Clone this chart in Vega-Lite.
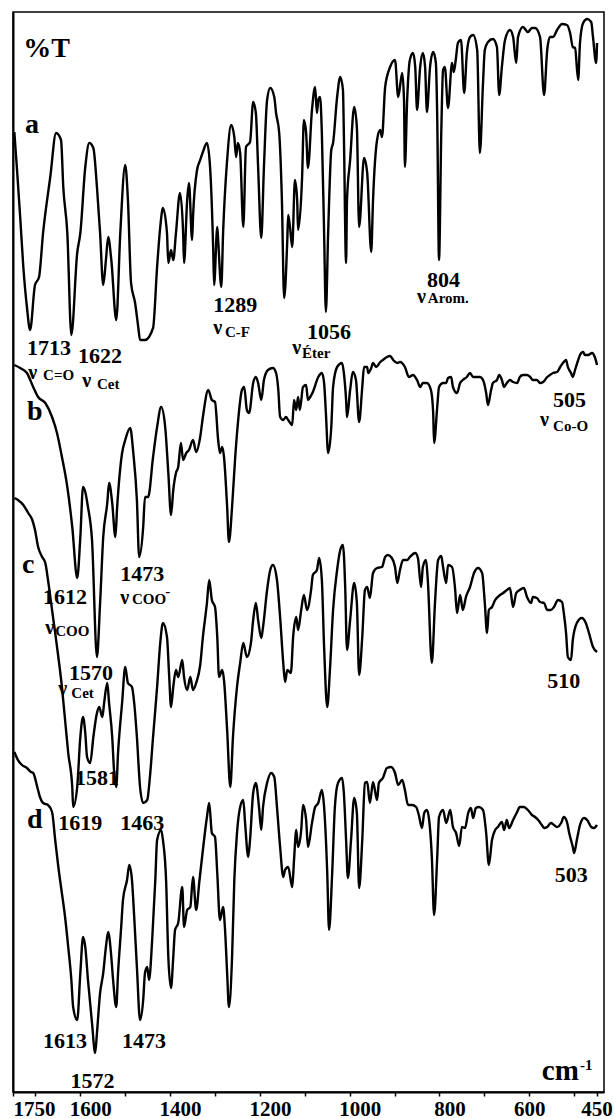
{
"$schema": "https://vega.github.io/schema/vega-lite/v6.json",
"autosize": "none",
"width": 591,
"height": 1080,
"padding": {"left": 13, "top": 12, "right": 11, "bottom": 27},
"background": "white",
"config": {"view": {"stroke": "black", "strokeWidth": 1.5}, "font": "Liberation Serif"},
"datasets": {
"spectra": [
{"s":"a","nu":1747,"T":960},{"s":"a","nu":1741,"T":922},{"s":"a","nu":1734,"T":875},{"s":"a","nu":1727,"T":825},{"s":"a","nu":1719,"T":785},{"s":"a","nu":1712,"T":762},{"s":"a","nu":1701,"T":807},{"s":"a","nu":1692,"T":815},{"s":"a","nu":1683,"T":859},{"s":"a","nu":1667,"T":915},{"s":"a","nu":1654,"T":959},{"s":"a","nu":1643,"T":952},{"s":"a","nu":1638,"T":905},{"s":"a","nu":1629,"T":859},{"s":"a","nu":1620,"T":757},{"s":"a","nu":1607,"T":839},{"s":"a","nu":1600,"T":859},{"s":"a","nu":1589,"T":925},{"s":"a","nu":1580,"T":949},{"s":"a","nu":1571,"T":944},{"s":"a","nu":1563,"T":905},{"s":"a","nu":1556,"T":859},{"s":"a","nu":1549,"T":807},{"s":"a","nu":1543,"T":832},{"s":"a","nu":1538,"T":855},{"s":"a","nu":1531,"T":832},{"s":"a","nu":1520,"T":772},{"s":"a","nu":1511,"T":859},{"s":"a","nu":1500,"T":927},{"s":"a","nu":1494,"T":892},{"s":"a","nu":1487,"T":809},{"s":"a","nu":1478,"T":789},{"s":"a","nu":1471,"T":765},{"s":"a","nu":1467,"T":752},{"s":"a","nu":1456,"T":752},{"s":"a","nu":1438,"T":764},{"s":"a","nu":1429,"T":825},{"s":"a","nu":1422,"T":865},{"s":"a","nu":1416,"T":884},{"s":"a","nu":1407,"T":859},{"s":"a","nu":1404,"T":829},{"s":"a","nu":1398,"T":842},{"s":"a","nu":1393,"T":832},{"s":"a","nu":1387,"T":859},{"s":"a","nu":1378,"T":899},{"s":"a","nu":1371,"T":859},{"s":"a","nu":1369,"T":829},{"s":"a","nu":1362,"T":892},{"s":"a","nu":1358,"T":909},{"s":"a","nu":1351,"T":852},{"s":"a","nu":1349,"T":875},{"s":"a","nu":1340,"T":922},{"s":"a","nu":1333,"T":932},{"s":"a","nu":1327,"T":940},{"s":"a","nu":1318,"T":949},{"s":"a","nu":1311,"T":925},{"s":"a","nu":1304,"T":842},{"s":"a","nu":1302,"T":807},{"s":"a","nu":1295,"T":865},{"s":"a","nu":1293,"T":852},{"s":"a","nu":1286,"T":805},{"s":"a","nu":1282,"T":859},{"s":"a","nu":1273,"T":932},{"s":"a","nu":1264,"T":967},{"s":"a","nu":1257,"T":955},{"s":"a","nu":1253,"T":935},{"s":"a","nu":1249,"T":949},{"s":"a","nu":1244,"T":939},{"s":"a","nu":1237,"T":865},{"s":"a","nu":1231,"T":945},{"s":"a","nu":1222,"T":950},{"s":"a","nu":1215,"T":990},{"s":"a","nu":1209,"T":979},{"s":"a","nu":1204,"T":925},{"s":"a","nu":1197,"T":854},{"s":"a","nu":1191,"T":925},{"s":"a","nu":1184,"T":992},{"s":"a","nu":1177,"T":1004},{"s":"a","nu":1168,"T":995},{"s":"a","nu":1164,"T":979},{"s":"a","nu":1157,"T":959},{"s":"a","nu":1151,"T":892},{"s":"a","nu":1146,"T":794},{"s":"a","nu":1139,"T":852},{"s":"a","nu":1137,"T":877},{"s":"a","nu":1133,"T":865},{"s":"a","nu":1128,"T":845},{"s":"a","nu":1122,"T":912},{"s":"a","nu":1117,"T":892},{"s":"a","nu":1115,"T":862},{"s":"a","nu":1106,"T":915},{"s":"a","nu":1102,"T":972},{"s":"a","nu":1097,"T":959},{"s":"a","nu":1093,"T":924},{"s":"a","nu":1084,"T":982},{"s":"a","nu":1077,"T":1005},{"s":"a","nu":1073,"T":979},{"s":"a","nu":1070,"T":992},{"s":"a","nu":1066,"T":995},{"s":"a","nu":1062,"T":959},{"s":"a","nu":1057,"T":859},{"s":"a","nu":1053,"T":780},{"s":"a","nu":1048,"T":859},{"s":"a","nu":1041,"T":942},{"s":"a","nu":1037,"T":949},{"s":"a","nu":1028,"T":995},{"s":"a","nu":1021,"T":1015},{"s":"a","nu":1015,"T":1002},{"s":"a","nu":1013,"T":959},{"s":"a","nu":1008,"T":829},{"s":"a","nu":1006,"T":892},{"s":"a","nu":999,"T":932},{"s":"a","nu":990,"T":985},{"s":"a","nu":984,"T":965},{"s":"a","nu":979,"T":865},{"s":"a","nu":968,"T":934},{"s":"a","nu":961,"T":919},{"s":"a","nu":952,"T":840},{"s":"a","nu":948,"T":892},{"s":"a","nu":939,"T":952},{"s":"a","nu":932,"T":962},{"s":"a","nu":928,"T":955},{"s":"a","nu":921,"T":1005},{"s":"a","nu":910,"T":1025},{"s":"a","nu":899,"T":1032},{"s":"a","nu":892,"T":995},{"s":"a","nu":883,"T":1019},{"s":"a","nu":879,"T":992},{"s":"a","nu":877,"T":925},{"s":"a","nu":872,"T":992},{"s":"a","nu":866,"T":1032},{"s":"a","nu":859,"T":1039},{"s":"a","nu":854,"T":1025},{"s":"a","nu":850,"T":982},{"s":"a","nu":843,"T":1025},{"s":"a","nu":837,"T":1039},{"s":"a","nu":832,"T":1025},{"s":"a","nu":828,"T":980},{"s":"a","nu":821,"T":1025},{"s":"a","nu":814,"T":1040},{"s":"a","nu":808,"T":1029},{"s":"a","nu":805,"T":975},{"s":"a","nu":801,"T":832},{"s":"a","nu":796,"T":959},{"s":"a","nu":792,"T":1022},{"s":"a","nu":788,"T":1025},{"s":"a","nu":781,"T":984},{"s":"a","nu":772,"T":1029},{"s":"a","nu":768,"T":1020},{"s":"a","nu":763,"T":1035},{"s":"a","nu":759,"T":1049},{"s":"a","nu":752,"T":1052},{"s":"a","nu":745,"T":999},{"s":"a","nu":739,"T":1039},{"s":"a","nu":732,"T":1055},{"s":"a","nu":725,"T":1057},{"s":"a","nu":716,"T":1042},{"s":"a","nu":710,"T":939},{"s":"a","nu":703,"T":1009},{"s":"a","nu":699,"T":1042},{"s":"a","nu":692,"T":1050},{"s":"a","nu":681,"T":1053},{"s":"a","nu":672,"T":1045},{"s":"a","nu":667,"T":997},{"s":"a","nu":661,"T":1025},{"s":"a","nu":654,"T":1052},{"s":"a","nu":643,"T":1062},{"s":"a","nu":636,"T":1055},{"s":"a","nu":629,"T":1029},{"s":"a","nu":625,"T":1055},{"s":"a","nu":614,"T":1065},{"s":"a","nu":603,"T":1060},{"s":"a","nu":594,"T":1064},{"s":"a","nu":587,"T":1064},{"s":"a","nu":576,"T":1055},{"s":"a","nu":567,"T":997},{"s":"a","nu":560,"T":1042},{"s":"a","nu":554,"T":1055},{"s":"a","nu":547,"T":1055},{"s":"a","nu":538,"T":1062},{"s":"a","nu":527,"T":1068},{"s":"a","nu":516,"T":1067},{"s":"a","nu":509,"T":1059},{"s":"a","nu":503,"T":1045},{"s":"a","nu":498,"T":1044},{"s":"a","nu":491,"T":1012},{"s":"a","nu":487,"T":1049},{"s":"a","nu":480,"T":1069},{"s":"a","nu":471,"T":1073},{"s":"a","nu":462,"T":1070},{"s":"a","nu":458,"T":1055},{"s":"a","nu":451,"T":1029},{"s":"a","nu":449,"T":1049},
{"s":"b","nu":1747,"T":727},{"s":"b","nu":1734,"T":724},{"s":"b","nu":1719,"T":719},{"s":"b","nu":1705,"T":705},{"s":"b","nu":1694,"T":695},{"s":"b","nu":1678,"T":689},{"s":"b","nu":1663,"T":675},{"s":"b","nu":1652,"T":659},{"s":"b","nu":1641,"T":635},{"s":"b","nu":1629,"T":605},{"s":"b","nu":1618,"T":565},{"s":"b","nu":1607,"T":514},{"s":"b","nu":1600,"T":555},{"s":"b","nu":1594,"T":605},{"s":"b","nu":1583,"T":585},{"s":"b","nu":1574,"T":552},{"s":"b","nu":1563,"T":435},{"s":"b","nu":1556,"T":489},{"s":"b","nu":1549,"T":555},{"s":"b","nu":1540,"T":589},{"s":"b","nu":1536,"T":609},{"s":"b","nu":1529,"T":589},{"s":"b","nu":1522,"T":555},{"s":"b","nu":1518,"T":585},{"s":"b","nu":1507,"T":639},{"s":"b","nu":1500,"T":652},{"s":"b","nu":1489,"T":664},{"s":"b","nu":1482,"T":639},{"s":"b","nu":1474,"T":592},{"s":"b","nu":1469,"T":535},{"s":"b","nu":1460,"T":565},{"s":"b","nu":1456,"T":595},{"s":"b","nu":1449,"T":595},{"s":"b","nu":1438,"T":635},{"s":"b","nu":1429,"T":665},{"s":"b","nu":1420,"T":685},{"s":"b","nu":1411,"T":665},{"s":"b","nu":1404,"T":619},{"s":"b","nu":1398,"T":577},{"s":"b","nu":1393,"T":602},{"s":"b","nu":1387,"T":619},{"s":"b","nu":1382,"T":625},{"s":"b","nu":1376,"T":649},{"s":"b","nu":1371,"T":632},{"s":"b","nu":1364,"T":639},{"s":"b","nu":1358,"T":642},{"s":"b","nu":1349,"T":652},{"s":"b","nu":1342,"T":640},{"s":"b","nu":1333,"T":655},{"s":"b","nu":1327,"T":675},{"s":"b","nu":1315,"T":702},{"s":"b","nu":1307,"T":692},{"s":"b","nu":1300,"T":690},{"s":"b","nu":1293,"T":652},{"s":"b","nu":1289,"T":639},{"s":"b","nu":1284,"T":645},{"s":"b","nu":1280,"T":635},{"s":"b","nu":1273,"T":585},{"s":"b","nu":1269,"T":550},{"s":"b","nu":1262,"T":585},{"s":"b","nu":1255,"T":635},{"s":"b","nu":1249,"T":669},{"s":"b","nu":1240,"T":702},{"s":"b","nu":1235,"T":705},{"s":"b","nu":1229,"T":682},{"s":"b","nu":1224,"T":679},{"s":"b","nu":1215,"T":709},{"s":"b","nu":1209,"T":715},{"s":"b","nu":1204,"T":709},{"s":"b","nu":1197,"T":692},{"s":"b","nu":1191,"T":712},{"s":"b","nu":1182,"T":722},{"s":"b","nu":1171,"T":724},{"s":"b","nu":1164,"T":719},{"s":"b","nu":1159,"T":702},{"s":"b","nu":1155,"T":675},{"s":"b","nu":1148,"T":672},{"s":"b","nu":1142,"T":675},{"s":"b","nu":1137,"T":672},{"s":"b","nu":1128,"T":667},{"s":"b","nu":1124,"T":692},{"s":"b","nu":1119,"T":682},{"s":"b","nu":1115,"T":695},{"s":"b","nu":1111,"T":682},{"s":"b","nu":1104,"T":705},{"s":"b","nu":1097,"T":707},{"s":"b","nu":1093,"T":692},{"s":"b","nu":1088,"T":695},{"s":"b","nu":1082,"T":700},{"s":"b","nu":1070,"T":715},{"s":"b","nu":1062,"T":719},{"s":"b","nu":1057,"T":709},{"s":"b","nu":1053,"T":679},{"s":"b","nu":1048,"T":639},{"s":"b","nu":1041,"T":665},{"s":"b","nu":1037,"T":705},{"s":"b","nu":1028,"T":725},{"s":"b","nu":1017,"T":729},{"s":"b","nu":1013,"T":719},{"s":"b","nu":1008,"T":692},{"s":"b","nu":1006,"T":675},{"s":"b","nu":999,"T":702},{"s":"b","nu":993,"T":720},{"s":"b","nu":986,"T":712},{"s":"b","nu":979,"T":670},{"s":"b","nu":972,"T":705},{"s":"b","nu":968,"T":725},{"s":"b","nu":961,"T":725},{"s":"b","nu":959,"T":719},{"s":"b","nu":952,"T":724},{"s":"b","nu":948,"T":729},{"s":"b","nu":941,"T":725},{"s":"b","nu":932,"T":730},{"s":"b","nu":926,"T":732},{"s":"b","nu":917,"T":735},{"s":"b","nu":910,"T":736},{"s":"b","nu":903,"T":732},{"s":"b","nu":894,"T":729},{"s":"b","nu":888,"T":730},{"s":"b","nu":877,"T":725},{"s":"b","nu":868,"T":715},{"s":"b","nu":859,"T":717},{"s":"b","nu":850,"T":712},{"s":"b","nu":843,"T":705},{"s":"b","nu":837,"T":709},{"s":"b","nu":828,"T":709},{"s":"b","nu":819,"T":702},{"s":"b","nu":814,"T":679},{"s":"b","nu":812,"T":649},{"s":"b","nu":805,"T":685},{"s":"b","nu":801,"T":705},{"s":"b","nu":792,"T":709},{"s":"b","nu":785,"T":709},{"s":"b","nu":781,"T":714},{"s":"b","nu":774,"T":715},{"s":"b","nu":770,"T":705},{"s":"b","nu":761,"T":699},{"s":"b","nu":754,"T":709},{"s":"b","nu":748,"T":712},{"s":"b","nu":739,"T":715},{"s":"b","nu":732,"T":719},{"s":"b","nu":725,"T":715},{"s":"b","nu":716,"T":715},{"s":"b","nu":710,"T":715},{"s":"b","nu":703,"T":712},{"s":"b","nu":696,"T":699},{"s":"b","nu":692,"T":687},{"s":"b","nu":685,"T":702},{"s":"b","nu":681,"T":709},{"s":"b","nu":672,"T":712},{"s":"b","nu":667,"T":717},{"s":"b","nu":661,"T":712},{"s":"b","nu":656,"T":705},{"s":"b","nu":650,"T":709},{"s":"b","nu":643,"T":712},{"s":"b","nu":636,"T":710},{"s":"b","nu":627,"T":709},{"s":"b","nu":621,"T":715},{"s":"b","nu":614,"T":717},{"s":"b","nu":605,"T":717},{"s":"b","nu":598,"T":715},{"s":"b","nu":592,"T":712},{"s":"b","nu":583,"T":712},{"s":"b","nu":576,"T":709},{"s":"b","nu":569,"T":710},{"s":"b","nu":560,"T":715},{"s":"b","nu":554,"T":717},{"s":"b","nu":547,"T":719},{"s":"b","nu":538,"T":720},{"s":"b","nu":531,"T":725},{"s":"b","nu":525,"T":729},{"s":"b","nu":518,"T":732},{"s":"b","nu":514,"T":725},{"s":"b","nu":507,"T":719},{"s":"b","nu":503,"T":715},{"s":"b","nu":498,"T":722},{"s":"b","nu":491,"T":732},{"s":"b","nu":487,"T":737},{"s":"b","nu":480,"T":740},{"s":"b","nu":476,"T":737},{"s":"b","nu":469,"T":737},{"s":"b","nu":460,"T":739},{"s":"b","nu":454,"T":735},{"s":"b","nu":449,"T":727},
{"s":"c","nu":1747,"T":594},{"s":"c","nu":1739,"T":592},{"s":"c","nu":1727,"T":587},{"s":"c","nu":1716,"T":579},{"s":"c","nu":1707,"T":572},{"s":"c","nu":1701,"T":562},{"s":"c","nu":1694,"T":545},{"s":"c","nu":1685,"T":535},{"s":"c","nu":1678,"T":529},{"s":"c","nu":1672,"T":512},{"s":"c","nu":1663,"T":482},{"s":"c","nu":1656,"T":459},{"s":"c","nu":1649,"T":435},{"s":"c","nu":1641,"T":405},{"s":"c","nu":1634,"T":372},{"s":"c","nu":1627,"T":339},{"s":"c","nu":1618,"T":305},{"s":"c","nu":1616,"T":285},{"s":"c","nu":1607,"T":305},{"s":"c","nu":1600,"T":355},{"s":"c","nu":1594,"T":375},{"s":"c","nu":1589,"T":359},{"s":"c","nu":1585,"T":335},{"s":"c","nu":1578,"T":329},{"s":"c","nu":1571,"T":355},{"s":"c","nu":1563,"T":379},{"s":"c","nu":1558,"T":385},{"s":"c","nu":1551,"T":375},{"s":"c","nu":1547,"T":389},{"s":"c","nu":1540,"T":409},{"s":"c","nu":1536,"T":389},{"s":"c","nu":1529,"T":355},{"s":"c","nu":1525,"T":322},{"s":"c","nu":1520,"T":305},{"s":"c","nu":1516,"T":339},{"s":"c","nu":1507,"T":389},{"s":"c","nu":1500,"T":425},{"s":"c","nu":1494,"T":409},{"s":"c","nu":1485,"T":405},{"s":"c","nu":1480,"T":389},{"s":"c","nu":1474,"T":355},{"s":"c","nu":1467,"T":305},{"s":"c","nu":1460,"T":289},{"s":"c","nu":1451,"T":292},{"s":"c","nu":1445,"T":315},{"s":"c","nu":1438,"T":355},{"s":"c","nu":1429,"T":405},{"s":"c","nu":1422,"T":449},{"s":"c","nu":1416,"T":469},{"s":"c","nu":1407,"T":455},{"s":"c","nu":1402,"T":415},{"s":"c","nu":1398,"T":385},{"s":"c","nu":1393,"T":405},{"s":"c","nu":1387,"T":422},{"s":"c","nu":1382,"T":415},{"s":"c","nu":1373,"T":432},{"s":"c","nu":1369,"T":415},{"s":"c","nu":1362,"T":402},{"s":"c","nu":1355,"T":415},{"s":"c","nu":1349,"T":402},{"s":"c","nu":1342,"T":409},{"s":"c","nu":1333,"T":427},{"s":"c","nu":1327,"T":455},{"s":"c","nu":1318,"T":489},{"s":"c","nu":1313,"T":512},{"s":"c","nu":1307,"T":492},{"s":"c","nu":1300,"T":485},{"s":"c","nu":1295,"T":455},{"s":"c","nu":1291,"T":415},{"s":"c","nu":1284,"T":422},{"s":"c","nu":1280,"T":412},{"s":"c","nu":1273,"T":362},{"s":"c","nu":1266,"T":305},{"s":"c","nu":1260,"T":355},{"s":"c","nu":1251,"T":405},{"s":"c","nu":1244,"T":429},{"s":"c","nu":1237,"T":449},{"s":"c","nu":1229,"T":435},{"s":"c","nu":1220,"T":449},{"s":"c","nu":1215,"T":472},{"s":"c","nu":1209,"T":489},{"s":"c","nu":1204,"T":472},{"s":"c","nu":1197,"T":454},{"s":"c","nu":1193,"T":465},{"s":"c","nu":1184,"T":502},{"s":"c","nu":1177,"T":522},{"s":"c","nu":1171,"T":527},{"s":"c","nu":1162,"T":512},{"s":"c","nu":1155,"T":475},{"s":"c","nu":1148,"T":429},{"s":"c","nu":1144,"T":410},{"s":"c","nu":1139,"T":422},{"s":"c","nu":1131,"T":419},{"s":"c","nu":1126,"T":455},{"s":"c","nu":1119,"T":475},{"s":"c","nu":1115,"T":462},{"s":"c","nu":1108,"T":482},{"s":"c","nu":1102,"T":497},{"s":"c","nu":1095,"T":482},{"s":"c","nu":1086,"T":502},{"s":"c","nu":1082,"T":517},{"s":"c","nu":1073,"T":522},{"s":"c","nu":1068,"T":534},{"s":"c","nu":1062,"T":512},{"s":"c","nu":1057,"T":445},{"s":"c","nu":1050,"T":385},{"s":"c","nu":1044,"T":422},{"s":"c","nu":1037,"T":482},{"s":"c","nu":1028,"T":522},{"s":"c","nu":1021,"T":542},{"s":"c","nu":1015,"T":547},{"s":"c","nu":1010,"T":505},{"s":"c","nu":1006,"T":442},{"s":"c","nu":999,"T":472},{"s":"c","nu":990,"T":509},{"s":"c","nu":984,"T":489},{"s":"c","nu":979,"T":417},{"s":"c","nu":972,"T":455},{"s":"c","nu":966,"T":502},{"s":"c","nu":961,"T":505},{"s":"c","nu":955,"T":494},{"s":"c","nu":948,"T":519},{"s":"c","nu":939,"T":524},{"s":"c","nu":928,"T":525},{"s":"c","nu":921,"T":535},{"s":"c","nu":915,"T":537},{"s":"c","nu":906,"T":534},{"s":"c","nu":899,"T":525},{"s":"c","nu":894,"T":509},{"s":"c","nu":888,"T":522},{"s":"c","nu":881,"T":532},{"s":"c","nu":872,"T":532},{"s":"c","nu":866,"T":535},{"s":"c","nu":854,"T":539},{"s":"c","nu":848,"T":534},{"s":"c","nu":841,"T":505},{"s":"c","nu":837,"T":525},{"s":"c","nu":830,"T":532},{"s":"c","nu":826,"T":512},{"s":"c","nu":817,"T":429},{"s":"c","nu":810,"T":489},{"s":"c","nu":803,"T":532},{"s":"c","nu":796,"T":536},{"s":"c","nu":792,"T":525},{"s":"c","nu":785,"T":509},{"s":"c","nu":781,"T":527},{"s":"c","nu":772,"T":525},{"s":"c","nu":765,"T":502},{"s":"c","nu":761,"T":479},{"s":"c","nu":754,"T":497},{"s":"c","nu":748,"T":482},{"s":"c","nu":741,"T":495},{"s":"c","nu":732,"T":505},{"s":"c","nu":723,"T":519},{"s":"c","nu":714,"T":524},{"s":"c","nu":705,"T":519},{"s":"c","nu":699,"T":489},{"s":"c","nu":694,"T":459},{"s":"c","nu":690,"T":482},{"s":"c","nu":683,"T":485},{"s":"c","nu":676,"T":492},{"s":"c","nu":665,"T":497},{"s":"c","nu":658,"T":499},{"s":"c","nu":650,"T":502},{"s":"c","nu":643,"T":504},{"s":"c","nu":636,"T":485},{"s":"c","nu":629,"T":499},{"s":"c","nu":621,"T":502},{"s":"c","nu":612,"T":504},{"s":"c","nu":605,"T":495},{"s":"c","nu":596,"T":489},{"s":"c","nu":592,"T":495},{"s":"c","nu":583,"T":494},{"s":"c","nu":576,"T":490},{"s":"c","nu":567,"T":489},{"s":"c","nu":560,"T":482},{"s":"c","nu":552,"T":482},{"s":"c","nu":545,"T":485},{"s":"c","nu":536,"T":492},{"s":"c","nu":527,"T":490},{"s":"c","nu":523,"T":479},{"s":"c","nu":518,"T":459},{"s":"c","nu":514,"T":435},{"s":"c","nu":507,"T":432},{"s":"c","nu":503,"T":452},{"s":"c","nu":494,"T":469},{"s":"c","nu":483,"T":474},{"s":"c","nu":474,"T":469},{"s":"c","nu":467,"T":459},{"s":"c","nu":458,"T":445},{"s":"c","nu":449,"T":440},
{"s":"d","nu":1747,"T":340},{"s":"d","nu":1739,"T":332},{"s":"d","nu":1730,"T":327},{"s":"d","nu":1719,"T":324},{"s":"d","nu":1710,"T":320},{"s":"d","nu":1705,"T":319},{"s":"d","nu":1696,"T":305},{"s":"d","nu":1690,"T":295},{"s":"d","nu":1683,"T":289},{"s":"d","nu":1672,"T":287},{"s":"d","nu":1663,"T":280},{"s":"d","nu":1656,"T":252},{"s":"d","nu":1649,"T":225},{"s":"d","nu":1643,"T":205},{"s":"d","nu":1634,"T":175},{"s":"d","nu":1627,"T":145},{"s":"d","nu":1620,"T":112},{"s":"d","nu":1616,"T":85},{"s":"d","nu":1607,"T":72},{"s":"d","nu":1600,"T":119},{"s":"d","nu":1594,"T":155},{"s":"d","nu":1589,"T":145},{"s":"d","nu":1583,"T":112},{"s":"d","nu":1574,"T":69},{"s":"d","nu":1567,"T":39},{"s":"d","nu":1563,"T":59},{"s":"d","nu":1556,"T":99},{"s":"d","nu":1549,"T":119},{"s":"d","nu":1543,"T":145},{"s":"d","nu":1538,"T":160},{"s":"d","nu":1531,"T":135},{"s":"d","nu":1527,"T":112},{"s":"d","nu":1520,"T":85},{"s":"d","nu":1516,"T":119},{"s":"d","nu":1509,"T":165},{"s":"d","nu":1505,"T":192},{"s":"d","nu":1496,"T":212},{"s":"d","nu":1491,"T":227},{"s":"d","nu":1485,"T":212},{"s":"d","nu":1480,"T":175},{"s":"d","nu":1474,"T":125},{"s":"d","nu":1467,"T":72},{"s":"d","nu":1460,"T":92},{"s":"d","nu":1456,"T":119},{"s":"d","nu":1451,"T":125},{"s":"d","nu":1447,"T":112},{"s":"d","nu":1440,"T":152},{"s":"d","nu":1433,"T":212},{"s":"d","nu":1429,"T":252},{"s":"d","nu":1420,"T":262},{"s":"d","nu":1416,"T":252},{"s":"d","nu":1409,"T":212},{"s":"d","nu":1404,"T":135},{"s":"d","nu":1398,"T":104},{"s":"d","nu":1393,"T":135},{"s":"d","nu":1389,"T":162},{"s":"d","nu":1382,"T":169},{"s":"d","nu":1373,"T":205},{"s":"d","nu":1369,"T":165},{"s":"d","nu":1362,"T":182},{"s":"d","nu":1355,"T":185},{"s":"d","nu":1349,"T":215},{"s":"d","nu":1342,"T":182},{"s":"d","nu":1335,"T":210},{"s":"d","nu":1327,"T":242},{"s":"d","nu":1318,"T":275},{"s":"d","nu":1313,"T":289},{"s":"d","nu":1307,"T":259},{"s":"d","nu":1300,"T":255},{"s":"d","nu":1295,"T":219},{"s":"d","nu":1289,"T":172},{"s":"d","nu":1282,"T":185},{"s":"d","nu":1278,"T":165},{"s":"d","nu":1273,"T":119},{"s":"d","nu":1269,"T":85},{"s":"d","nu":1262,"T":135},{"s":"d","nu":1257,"T":212},{"s":"d","nu":1251,"T":259},{"s":"d","nu":1244,"T":285},{"s":"d","nu":1237,"T":292},{"s":"d","nu":1233,"T":269},{"s":"d","nu":1226,"T":235},{"s":"d","nu":1222,"T":252},{"s":"d","nu":1215,"T":299},{"s":"d","nu":1209,"T":309},{"s":"d","nu":1202,"T":285},{"s":"d","nu":1197,"T":262},{"s":"d","nu":1193,"T":285},{"s":"d","nu":1184,"T":309},{"s":"d","nu":1175,"T":319},{"s":"d","nu":1168,"T":315},{"s":"d","nu":1162,"T":285},{"s":"d","nu":1155,"T":245},{"s":"d","nu":1148,"T":215},{"s":"d","nu":1144,"T":222},{"s":"d","nu":1137,"T":225},{"s":"d","nu":1128,"T":205},{"s":"d","nu":1124,"T":232},{"s":"d","nu":1119,"T":262},{"s":"d","nu":1115,"T":245},{"s":"d","nu":1108,"T":262},{"s":"d","nu":1104,"T":287},{"s":"d","nu":1097,"T":272},{"s":"d","nu":1093,"T":245},{"s":"d","nu":1084,"T":269},{"s":"d","nu":1077,"T":285},{"s":"d","nu":1070,"T":289},{"s":"d","nu":1062,"T":302},{"s":"d","nu":1057,"T":285},{"s":"d","nu":1050,"T":219},{"s":"d","nu":1046,"T":162},{"s":"d","nu":1039,"T":219},{"s":"d","nu":1033,"T":285},{"s":"d","nu":1026,"T":309},{"s":"d","nu":1017,"T":314},{"s":"d","nu":1013,"T":299},{"s":"d","nu":1008,"T":252},{"s":"d","nu":1004,"T":214},{"s":"d","nu":997,"T":252},{"s":"d","nu":990,"T":294},{"s":"d","nu":984,"T":279},{"s":"d","nu":979,"T":204},{"s":"d","nu":972,"T":252},{"s":"d","nu":966,"T":309},{"s":"d","nu":961,"T":310},{"s":"d","nu":955,"T":289},{"s":"d","nu":948,"T":310},{"s":"d","nu":939,"T":292},{"s":"d","nu":935,"T":309},{"s":"d","nu":926,"T":314},{"s":"d","nu":917,"T":324},{"s":"d","nu":908,"T":325},{"s":"d","nu":899,"T":319},{"s":"d","nu":892,"T":307},{"s":"d","nu":883,"T":312},{"s":"d","nu":877,"T":302},{"s":"d","nu":870,"T":287},{"s":"d","nu":861,"T":287},{"s":"d","nu":852,"T":285},{"s":"d","nu":846,"T":277},{"s":"d","nu":839,"T":264},{"s":"d","nu":834,"T":279},{"s":"d","nu":828,"T":282},{"s":"d","nu":823,"T":272},{"s":"d","nu":817,"T":235},{"s":"d","nu":812,"T":177},{"s":"d","nu":805,"T":235},{"s":"d","nu":801,"T":275},{"s":"d","nu":792,"T":282},{"s":"d","nu":785,"T":269},{"s":"d","nu":776,"T":282},{"s":"d","nu":770,"T":265},{"s":"d","nu":763,"T":259},{"s":"d","nu":756,"T":246},{"s":"d","nu":750,"T":265},{"s":"d","nu":743,"T":264},{"s":"d","nu":736,"T":279},{"s":"d","nu":730,"T":284},{"s":"d","nu":725,"T":274},{"s":"d","nu":719,"T":284},{"s":"d","nu":712,"T":285},{"s":"d","nu":703,"T":282},{"s":"d","nu":696,"T":259},{"s":"d","nu":690,"T":227},{"s":"d","nu":683,"T":252},{"s":"d","nu":676,"T":262},{"s":"d","nu":670,"T":265},{"s":"d","nu":661,"T":270},{"s":"d","nu":656,"T":262},{"s":"d","nu":650,"T":272},{"s":"d","nu":645,"T":264},{"s":"d","nu":636,"T":272},{"s":"d","nu":627,"T":280},{"s":"d","nu":621,"T":285},{"s":"d","nu":612,"T":285},{"s":"d","nu":603,"T":282},{"s":"d","nu":594,"T":277},{"s":"d","nu":587,"T":275},{"s":"d","nu":580,"T":272},{"s":"d","nu":572,"T":267},{"s":"d","nu":567,"T":264},{"s":"d","nu":560,"T":265},{"s":"d","nu":552,"T":269},{"s":"d","nu":545,"T":267},{"s":"d","nu":538,"T":265},{"s":"d","nu":529,"T":269},{"s":"d","nu":523,"T":275},{"s":"d","nu":516,"T":270},{"s":"d","nu":511,"T":259},{"s":"d","nu":503,"T":245},{"s":"d","nu":500,"T":239},{"s":"d","nu":494,"T":252},{"s":"d","nu":487,"T":267},{"s":"d","nu":478,"T":274},{"s":"d","nu":471,"T":272},{"s":"d","nu":462,"T":265},{"s":"d","nu":456,"T":264},{"s":"d","nu":449,"T":267}
]
},
"encoding": {
"x": {"field": "nu", "type": "quantitative", "scale": {"domain": [433.5, 1750], "reverse": true, "nice": false, "zero": false},
 "axis": {"title": null, "values": [1750,1700,1600,1500,1400,1300,1200,1100,1000,900,800,700,600,500,450], "format": "d",
  "labelExpr": "indexof([1750,1600,1400,1200,1000,800,600,450], datum.value) >= 0 ? datum.label : ''",
  "labelFont": "Liberation Serif", "labelFontWeight": "bold", "labelFontSize": 21, "labelColor": "black",
  "labelOverlap": false, "labelBound": false, "labelFlush": false, "labelPadding": 2,
  "labelAlign": {"condition": {"test": "datum.value == 1750", "value": "left"}, "value": "center"},
  "labelOffset": {"condition": {"test": "datum.value <= 1600 && datum.value >= 800", "value": 10}, "value": 0},
  "tickColor": "black", "tickSize": 4, "tickWidth": 1.5, "domainColor": "black", "domainWidth": 2, "grid": false}},
"y": {"field": "T", "type": "quantitative", "scale": {"domain": [0, 1080], "nice": false, "zero": false},
 "axis": {"title": null, "labels": false, "ticks": false, "grid": false, "domainColor": "black", "domainWidth": 2}}
},
"layer": [
{"data": {"name": "spectra"},
 "mark": {"type": "line", "color": "black", "strokeWidth": 2.4, "interpolate": "monotone"},
 "encoding": {"detail": {"field": "s"}, "order": {"field": "nu", "sort": "descending"}}},
{"data": {"values": [
 {"nu":1727,"T":1035,"label":"%T"},{"nu":1723,"T":959,"label":"a"},{"nu":1719,"T":672,"label":"b"},{"nu":1730,"T":519,"label":"c"},{"nu":1719,"T":264,"label":"d"}]},
 "mark": {"type": "text", "align": "left", "baseline": "alphabetic", "font": "Liberation Serif", "fontWeight": "bold", "fontSize": 28, "color": "black"},
 "encoding": {"text": {"field": "label"}}},
{"data": {"values": [
 {"nu":1719,"T":737,"label":"1713"},{"nu":1605,"T":729,"label":"1622"},{"nu":1304,"T":780,"label":"1289"},{"nu":1095,"T":753,"label":"1056"},{"nu":828,"T":805,"label":"804"},{"nu":547,"T":685,"label":"505"},{"nu":1683,"T":488,"label":"1612"},{"nu":1511,"T":511,"label":"1473"},{"nu":1625,"T":412,"label":"1570"},{"nu":1612,"T":307,"label":"1581"},{"nu":1649,"T":262,"label":"1619"},{"nu":1511,"T":262,"label":"1463"},{"nu":1683,"T":44,"label":"1613"},{"nu":1507,"T":44,"label":"1473"},{"nu":1622,"T":4,"label":"1572"},{"nu":560,"T":404,"label":"510"},{"nu":543,"T":210,"label":"503"}]},
 "mark": {"type": "text", "align": "left", "baseline": "alphabetic", "font": "Liberation Serif", "fontWeight": "bold", "fontSize": 22, "color": "black"},
 "encoding": {"text": {"field": "label"}}},
{"data": {"values": [
 {"nu":1716,"T":713,"label":"ν"},{"nu":1596,"T":705,"label":"ν"},{"nu":1304,"T":758,"label":"ν"},{"nu":1128,"T":738,"label":"ν"},{"nu":850,"T":789,"label":"ν"},{"nu":576,"T":666,"label":"ν"},{"nu":1678,"T":458,"label":"ν"},{"nu":1511,"T":488,"label":"ν"},{"nu":1649,"T":397,"label":"ν"}]},
 "mark": {"type": "text", "align": "left", "baseline": "alphabetic", "font": "Liberation Serif", "fontWeight": "bold", "fontSize": 20, "color": "black"},
 "encoding": {"text": {"field": "label"}}},
{"data": {"values": [
 {"nu":1683,"T":712,"label":"C=O"},{"nu":1563,"T":703,"label":"Cet"},{"nu":1278,"T":755,"label":"C-F"},{"nu":1106,"T":734,"label":"Éter"},{"nu":826,"T":789,"label":"Arom."},{"nu":547,"T":661,"label":"Co-O"},{"nu":1656,"T":456,"label":"COO"},{"nu":1485,"T":488,"label":"COO"},{"nu":1411,"T":496,"label":"-"},{"nu":1620,"T":394,"label":"Cet"}]},
 "mark": {"type": "text", "align": "left", "baseline": "alphabetic", "font": "Liberation Serif", "fontWeight": "bold", "fontSize": 15, "color": "black"},
 "encoding": {"text": {"field": "label"}}},
{"data": {"values": [{"nu":572,"T":12,"label":"cm"}]},
 "mark": {"type": "text", "align": "left", "baseline": "alphabetic", "font": "Liberation Serif", "fontWeight": "bold", "fontSize": 29, "color": "black"},
 "encoding": {"text": {"field": "label"}}},
{"data": {"values": [{"nu":487,"T":22,"label":"-1"}]},
 "mark": {"type": "text", "align": "left", "baseline": "alphabetic", "font": "Liberation Serif", "fontWeight": "bold", "fontSize": 15, "color": "black"},
 "encoding": {"text": {"field": "label"}}}
]
}
